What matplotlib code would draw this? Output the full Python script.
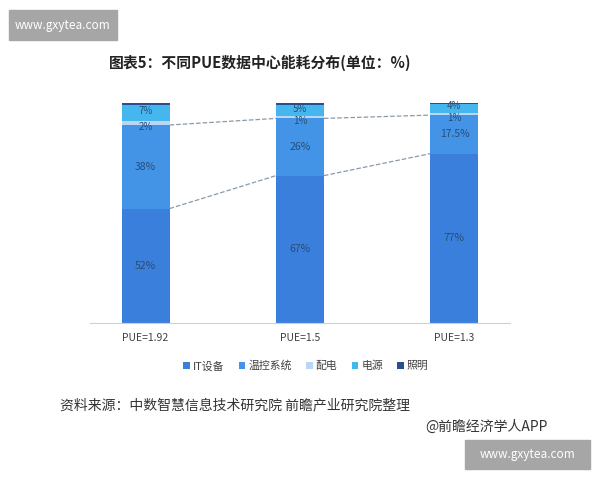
import matplotlib
matplotlib.use('Agg')
import matplotlib.pyplot as plt
from matplotlib.patches import Rectangle
import numpy as np

plt.rcParams['font.family'] = ['Noto Sans CJK SC', 'DejaVu Sans']

categories = ['PUE=1.92', 'PUE=1.5', 'PUE=1.3']
series_names = ['IT设备', '温控系统', '配电', '电源', '照明']
it_vals = [52, 67, 77]
cool_vals = [38, 26, 17.5]
dist_vals = [2, 1, 1]
power_vals = [7, 5, 4]
light_vals = [1, 1, 0.5]
label_texts = [['52%', '67%', '77%'],
               ['38%', '26%', '17.5%'],
               ['2%', '1%', '1%'],
               ['7%', '5%', '4%']]

colors = ['#3a7fdc', '#4393e6', '#b9d6f2', '#46b6ee', '#2a4f8e']
label_color = '#2a4d75'

fig = plt.figure(figsize=(6, 4.8), dpi=100)
ax = fig.add_axes([0.15, 1 - 323 / 480, 0.70, 220 / 480])

x = np.arange(len(categories))
w = 0.31
series = [it_vals, cool_vals, dist_vals, power_vals, light_vals]
bottom = np.zeros(len(categories))
tops = []
for i, vals in enumerate(series):
    vals = np.array(vals, dtype=float)
    ax.bar(x, vals, w, bottom=bottom, color=colors[i], label=series_names[i], zorder=2)
    if i < 4:
        fs = 7.5
        for j in range(len(x)):
            yc = bottom[j] + vals[j] / 2
            # thin segments: nudge apart so the labels stack like the original
            if i == 2:
                yc = bottom[j] + vals[j] / 2 - 1.8
                fs = 7
            if i == 3:
                yc = bottom[j] + vals[j] / 2 + 1.0
                fs = 7
            ax.text(x[j], yc, label_texts[i][j], ha='center', va='center',
                    fontsize=fs, color=label_color, zorder=3)
    bottom = bottom + vals
    tops.append(bottom.copy())

# dashed connector lines
for lvl in [tops[0], tops[1]]:
    for j in range(len(x) - 1):
        ax.plot([x[j] + w / 2, x[j + 1] - w / 2], [lvl[j], lvl[j + 1]],
                ls='--', color='#8a9aa8', lw=0.9, zorder=1)

ax.set_xlim(-0.36, 2.36)
ax.set_ylim(0, 100)
ax.set_yticks([])
ax.set_xticks(x)
ax.set_xticklabels(categories, fontsize=7.5, color='#404040')
ax.tick_params(axis='x', length=0, pad=7)
for s in ['top', 'left', 'right']:
    ax.spines[s].set_visible(False)
ax.spines['bottom'].set_color('#d0d0d0')
ax.spines['bottom'].set_linewidth(0.8)

fig.legend(loc='center', bbox_to_anchor=(0.51, 1 - 366 / 480), ncol=5, frameon=False,
           fontsize=7.8, handlelength=0.6, handleheight=0.6, handletextpad=0.3,
           columnspacing=1.3, labelcolor='#404040')

fig.text(0.433, 1 - 63 / 480, '图表5：不同PUE数据中心能耗分布(单位：%)', ha='center', va='center',
         fontsize=10.7, fontweight='bold', color='#222222')
fig.text(60 / 600, 1 - 405 / 480, '资料来源：中数智慧信息技术研究院 前瞻产业研究院整理',
         ha='left', va='center', fontsize=10, color='#333333')
fig.text(548 / 600, 1 - 427 / 480, '@前瞻经济学人APP', ha='right', va='center',
         fontsize=10, color='#333333')

# site stamps
for (x0, y0, x1, y1) in [(9, 10, 117, 40), (465, 440, 590, 469)]:
    fig.patches.append(Rectangle((x0 / 600, 1 - y1 / 480), (x1 - x0) / 600, (y1 - y0) / 480,
                                 transform=fig.transFigure, color='#a6a6a6', zorder=5))
    fig.text((x0 + x1) / 2 / 600, 1 - (y0 + y1) / 2 / 480, 'www.gxytea.com', ha='center',
             va='center', fontsize=8.5, color='white', zorder=6)

plt.savefig('out.png', dpi=100)
